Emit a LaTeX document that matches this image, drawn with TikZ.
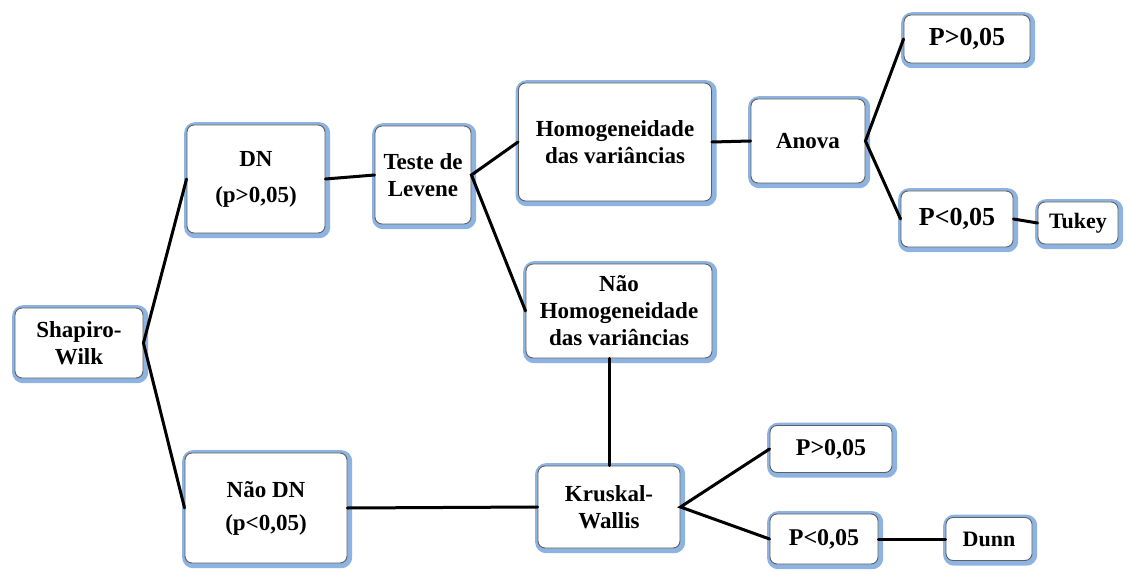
\documentclass[tikz,border=0pt]{standalone}
\usepackage{fontspec}
\setmainfont{Liberation Serif}
\definecolor{blueglow}{RGB}{141,179,226}
\definecolor{rimgray}{RGB}{95,95,95}
\tikzset{
  box/.style={rounded corners=7pt, fill=white, draw=rimgray, line width=0.9pt,
    preaction={draw=blueglow, line width=8pt, transform canvas={xshift=1.2pt, yshift=-1.2pt}},
    align=center, inner sep=2pt, font=\fontsize{23}{27}\selectfont\bfseries},
  pbox/.style={box, font=\fontsize{26}{30}\selectfont\bfseries},
  kbox/.style={box, font=\fontsize{24}{28}\selectfont\bfseries},
  sbox/.style={box, font=\fontsize{22}{26}\selectfont\bfseries},
  link/.style={draw=black, line width=3pt, line cap=round}
}
\begin{document}
\begin{tikzpicture}[x=1pt,y=-1pt]
\useasboundingbox (0,0) rectangle (1127,572);

% first level: normality test
\node[box, minimum width=128pt, minimum height=70pt] (sw) at (79,343) {Shapiro-\\Wilk};
\node[box, minimum width=138pt, minimum height=108pt] (dn) at (256,179) {DN\\[9pt](p>0,05)};
\node[box, minimum width=162pt, minimum height=110pt] (ndn) at (266,508) {Não DN\\[6pt](p<0,05)};

% parametric branch
\node[box, minimum width=96pt, minimum height=98pt] (lev) at (423,175) {Teste de\\Levene};
\node[box, minimum width=193pt, minimum height=118pt] (hom) at (615,142) {Homogeneidade\\das variâncias};
\node[box, minimum width=186pt, minimum height=94pt] (nhom) at (619,311) {Não\\Homogeneidade\\das variâncias};
\node[box, minimum width=114pt, minimum height=84pt] (anova) at (808,141) {Anova};
\node[pbox, minimum width=126pt, minimum height=48pt] (ap1) at (967,39) {P>0,05};
\node[pbox, minimum width=112pt, minimum height=56pt] (ap2) at (957,219) {P<0,05};
\node[sbox, minimum width=80pt, minimum height=42pt] (tukey) at (1078,223) {Tukey};

% non-parametric branch
\node[box, minimum width=142pt, minimum height=82pt] (kw) at (609,507) {Kruskal-\\Wallis};
\node[kbox, minimum width=122pt, minimum height=47pt] (kp1) at (831,449) {P>0,05};
\node[kbox, minimum width=108pt, minimum height=50pt] (kp2) at (824,539) {P<0,05};
\node[sbox, minimum width=86pt, minimum height=43pt] (dunn) at (989,539) {Dunn};

% connectors
\draw[link] (dn.west) -- (sw.east) -- (ndn.west);
\draw[link] (dn.east) -- (lev.west);
\draw[link] (hom.west) -- (lev.east) -- (nhom.west);
\draw[link] (hom.east) -- (anova.west);
\draw[link] (ap1.west) -- (anova.east) -- (ap2.west);
\draw[link] (ap2.east) -- (tukey.west);
\draw[link] (nhom.south -| kw.north) -- (kw.north);
\draw[link] (ndn.east) -- (kw.west);
\draw[link] (kp1.west) -- (kw.east) -- (kp2.west);
\draw[link] (kp2.east) -- (dunn.west);
\end{tikzpicture}
\end{document}
